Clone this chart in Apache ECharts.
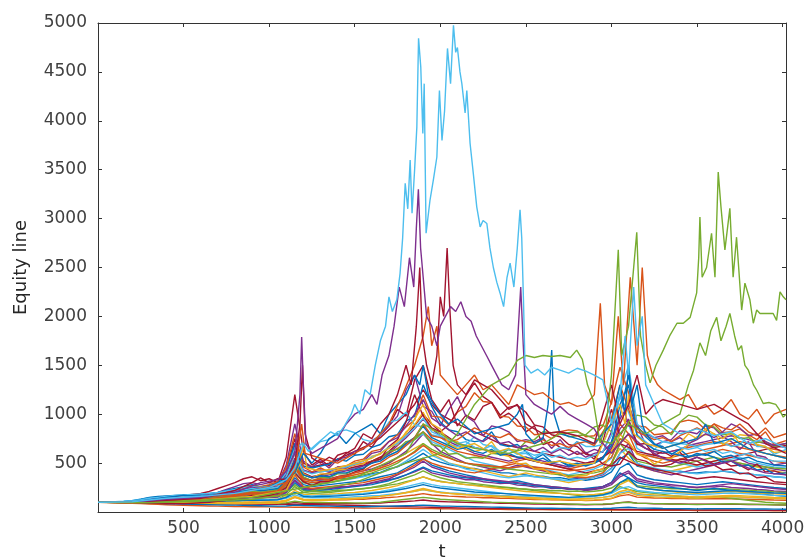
<!DOCTYPE html>
<html>
<head>
<meta charset="utf-8">
<script src="https://cdn.jsdelivr.net/npm/echarts@6/dist/echarts.min.js"></script>
<style>html,body{margin:0;padding:0;background:#fff}#c{width:805px;height:560px}</style>
</head>
<body>
<div id="c"></div>
<script>
// ---- axis / tick data ----
const xTicks = [500,1000,1500,2000,2500,3000,3500,4000];
const yTicks = [500,1000,1500,2000,2500,3000,3500,4000,4500,5000];
const tGrid = [0,50,100,150,200,250,300,350,400,450,500,550,600,650,700,750,800,850,900,950,1000,1050,1100,1150,1200,1250,1300,1350,1400,1450,1500,1550,1600,1650,1700,1750,1800,1850,1900,1950,2000,2050,2100,2150,2200,2250,2300,2350,2400,2450,2500,2550,2600,2650,2700,2750,2800,2850,2900,2950,3000,3050,3100,3150,3200,3250,3300,3350,3400,3450,3500,3550,3600,3650,3700,3750,3800,3850,3900,3950,4020];

// ---- grid series (values at tGrid) ----
const m1 = [100,100,102,105,108,115,125,140,150,160, 170,180,190,210,240,270,300,340,360,320, 340,300,560,1200,620,480,540,470,580,610, 590,720,660,790,880,1050,980,1350,1500,1150, 1020,1150,880,990,940,1080,1120,960,1010,940, 820,880,690,720,660,640,590,610,540,720, 1050,780,930,690,700,580,620,570,610,520, 560,530,490,520,470,480,430,490,410,420, 380];
const m2 = [100,99,101,104,110,120,132,140,145,150, 148,155,165,180,200,230,260,290,300,280, 300,290,480,900,520,460,520,450,540,560, 620,640,730,780,880,980,1250,1400,1080,1030, 880,1050,1180,980,920,780,880,860,820,720, 740,720,760,650,740,630,720,600,640,610, 820,1200,880,880,690,680,720,740,830,820, 800,880,860,770,720,640,720,580,560,480, 500];
const m3 = [100,101,103,106,112,130,150,160,165,170, 175,172,180,190,200,220,240,260,280,260, 270,290,420,700,470,450,470,490,540,520, 580,590,660,690,770,790,930,980,1300,1080, 920,840,820,740,720,730,820,690,670,690, 620,540,590,510,520,470,480,490,500,540, 720,980,1400,880,770,690,670,590,640,570, 580,590,560,510,520,470,480,430,440,390, 400];
const m4 = [100,100,98,100,104,110,118,125,135,140, 145,150,160,170,185,200,220,250,270,260, 280,310,450,800,460,410,450,410,460,470, 520,540,620,640,720,790,870,940,1200,980, 970,890,1020,1080,1220,1130,1120,980,970,880, 870,790,800,750,820,840,830,770,780,880, 1120,1480,1220,880,870,790,800,810,920,940, 920,840,900,810,820,850,790,740,820,690, 730];
const m5 = [100,101,104,108,115,125,140,150,160,170, 175,180,185,190,200,215,230,250,260,250, 260,280,400,650,710,640,720,740,820,840, 810,740,720,790,920,940,1020,890,870,790, 770,690,670,690,770,690,670,590,640,590, 600,550,620,610,660,650,720,670,670,690, 920,1180,1020,790,720,640,720,710,700,690, 670,690,700,710,670,690,770,670,670,590, 640];
const m6 = [100,100,101,103,106,110,115,120,125,130, 135,140,150,160,170,185,200,220,230,220, 230,250,350,600,390,350,390,390,430,440, 490,490,570,590,670,690,820,890,1020,840, 820,740,720,640,620,640,720,590,570,490, 500,440,440,390,400,350,370,370,420,440, 620,790,720,590,570,490,540,550,620,690, 770,790,800,690,740,790,780,690,670,610, 620];
const m7 = [100,99,98,100,102,106,110,115,120,125, 130,135,140,150,160,170,185,200,210,200, 210,230,300,500,360,320,350,350,390,390, 430,440,520,540,620,640,720,740,820,690, 670,590,600,550,560,550,600,590,640,630, 720,740,820,810,820,770,780,790,870,890, 820,690,920,990,970,890,870,790,920,990, 970,890,870,790,800,750,760,710,720,670, 700];
const m8 = [100,100,99,97,95,92,90,88,86,85, 85,90,95,100,110,120,130,150,170,160, 170,190,250,400,310,270,310,310,360,370, 410,440,520,540,670,740,920,1200,980,860, 820,890,1030,1190,1320,1180,1120,990,1070,1090, 1020,890,870,790,770,690,670,590,570,490, 470,490,620,540,520,470,470,490,540,530, 520,470,480,430,440,390,400,350,360,310, 300];
const m9 = [100,100,102,104,107,111,116,122,128,135, 142,150,158,168,180,194,210,228,250,240, 250,265,380,620,430,400,430,410,460,450, 500,520,600,620,720,760,880,1000,1150,960, 900,840,780,820,760,720,780,700,720,660, 680,620,660,600,640,580,620,560,600,620, 700,950,1100,860,800,760,780,720,760,700, 740,800,760,820,900,860,780,800,720,680, 700];
const m10 = [100,101,102,104,106,109,113,118,124,130, 136,142,148,156,166,178,192,208,226,218, 228,240,330,520,380,350,370,360,400,400, 430,450,500,520,580,620,700,760,880,760, 720,680,640,660,620,600,640,580,600,560, 560,520,550,500,520,480,500,470,500,560, 680,1100,1300,780,700,640,620,600,580,560, 600,580,620,560,580,540,560,520,500,480, 470];
const m11 = [100,100,99,99,100,101,103,106,110,114, 118,122,128,135,144,155,168,184,200,194, 204,216,300,480,340,320,340,330,360,370, 400,420,470,500,560,600,680,760,900,780, 760,720,740,800,860,820,780,760,800,740, 720,700,740,680,700,660,700,720,680,820, 960,1300,1050,820,780,740,760,720,780,820, 860,820,900,860,840,900,820,780,860,760, 800];
const m12 = [100,102,104,107,111,116,122,130,138,146, 152,158,164,172,182,194,208,224,242,232, 242,256,360,600,420,390,410,420,450,460, 490,520,560,600,660,700,780,860,960,820, 780,740,700,720,660,640,680,620,640,600, 620,580,600,560,580,540,560,540,580,620, 780,1200,1500,900,820,760,720,700,660,640, 660,620,640,600,620,580,600,560,540,520, 520];
const l1 = [100,100,101,102,104,108,112,118,122,128, 130,132,136,140,146,152,160,170,180,175, 185,190,260,350,280,260,270,280,290,300, 310,320,340,360,380,400,450,500,550,480, 450,420,400,380,360,340,320,300,310,320, 300,280,270,260,250,240,230,240,250,260, 300,400,350,300,280,270,260,250,240,230, 220,230,240,230,220,210,200,190,180,170, 160];
const l2 = [100,99,97,94,90,86,82,78,74,70, 68,66,64,62,60,58,56,55,54,53, 52,51,50,49,48,47,46,45,44,43, 42,41,40,40,39,38,37,36,35,34, 33,32,31,30,30,29,28,27,26,25, 25,24,24,23,23,22,22,21,21,20, 20,20,19,19,18,18,18,17,17,17, 16,16,16,15,15,15,14,14,14,13, 13];
const l3 = [100,101,103,106,110,115,122,130,138,145, 150,155,160,168,175,185,195,210,220,210, 220,230,330,450,320,300,310,320,340,360, 380,400,420,450,500,550,600,650,700,600, 550,500,480,460,440,420,400,380,360,380, 400,380,360,340,320,300,320,340,360,400, 500,650,550,480,450,420,400,420,440,460, 480,500,520,540,520,500,480,460,440,420, 400];
const l4 = [100,100,101,102,104,107,110,114,118,122, 126,130,135,140,146,154,162,172,185,180, 190,200,300,500,350,320,330,340,360,380, 400,420,440,470,500,560,620,700,800,700, 620,580,540,500,480,460,440,420,450,480, 460,440,420,400,380,360,350,340,360,380, 450,600,700,500,450,420,400,380,400,420, 440,460,480,500,520,540,500,480,460,440, 420];
const l5 = [100,98,96,95,94,93,92,92,93,94, 95,96,98,100,104,108,112,118,125,120, 125,130,180,260,200,190,195,200,210,220, 230,240,250,270,290,320,350,380,420,380, 350,330,310,300,290,280,270,260,250,240, 230,220,210,200,190,180,170,160,170,180, 200,260,230,210,200,190,180,170,160,150, 140,150,160,150,140,130,120,110,100,95, 90];
const l6 = [100,102,105,110,118,130,145,155,160,165, 170,168,172,178,185,195,205,220,235,225, 235,245,340,550,380,360,370,390,410,430, 450,480,500,540,580,620,680,740,800,720, 680,640,600,560,520,500,480,460,440,460, 480,460,440,420,400,380,400,420,440,480, 550,800,900,650,600,560,540,520,500,480, 460,480,500,520,540,560,520,500,480,460, 450];
const l7 = [100,100,99,98,97,96,95,94,93,92, 91,90,90,89,88,87,86,85,84,83, 82,81,80,79,78,76,74,72,70,68, 66,64,62,60,58,56,54,52,50,48, 46,44,42,40,39,38,37,36,35,34, 33,32,31,30,30,29,29,28,28,27, 27,26,26,25,25,24,24,23,23,22, 22,21,21,20,20,19,19,18,18,17, 17];
const l8 = [100,101,102,103,105,108,110,112,114,116, 118,120,122,124,126,130,135,140,150,145, 150,155,200,300,230,220,225,230,240,250, 260,270,280,300,320,350,380,420,460,420, 400,380,360,350,340,330,320,310,300,290, 280,270,260,250,245,240,235,230,240,260, 300,450,500,380,350,330,320,310,300,290, 280,290,300,310,300,290,280,270,260,250, 240];
const l9 = [100,100,101,103,106,110,115,120,125,130, 135,140,148,158,170,185,200,220,240,230, 240,250,380,600,420,400,410,420,440,460, 480,500,520,560,600,650,700,760,820,740, 700,660,620,600,580,560,540,520,500,520, 540,520,500,480,460,440,460,480,500,550, 650,900,800,700,650,620,600,620,640,660, 680,700,720,700,680,660,640,620,600,580, 560];
const l10 = [100,99,98,97,96,95,94,94,95,96, 97,98,100,102,105,110,115,120,128,124, 128,132,160,220,180,175,178,182,188,195, 200,210,220,235,250,270,300,330,360,330, 310,300,290,280,270,260,250,240,230,220, 210,205,200,195,190,185,180,175,180,190, 210,280,320,260,240,230,220,210,200,195, 190,195,200,205,210,205,200,195,190,185, 180];
const l11 = [100,100,100,101,102,104,106,108,110,112, 114,116,118,120,124,128,134,140,148,144, 148,152,200,320,240,230,235,240,250,260, 270,280,300,320,340,380,420,460,520,460, 430,400,380,360,350,340,330,320,310,300, 290,280,270,260,250,240,235,230,240,260, 300,380,420,340,320,300,290,280,270,260, 250,260,270,280,290,280,270,260,250,240, 230];
const l12 = [100,100,99,99,98,98,97,97,96,96, 95,95,94,94,93,93,92,92,91,91, 90,90,95,110,100,98,97,96,95,94, 93,92,95,100,110,120,130,140,150,140, 130,125,120,115,110,105,100,98,96,94, 92,90,88,86,84,82,80,78,80,82, 85,95,100,90,88,86,84,82,80,78, 76,78,80,82,84,82,80,78,76,74, 72];
const l13 = [100,101,103,105,108,112,117,122,128,134, 140,145,150,156,162,170,178,188,200,192, 198,205,280,420,300,285,290,300,315,330, 345,360,380,400,430,470,520,580,640,580, 540,500,470,440,420,400,380,360,350,360, 370,360,350,340,330,320,330,340,360,390, 440,600,650,500,470,450,430,420,410,400, 390,400,410,420,410,400,390,380,370,360, 350];
const l14 = [100,100,100,101,102,103,105,107,110,113, 116,120,125,130,140,150,165,180,200,190, 200,210,330,700,400,360,380,400,420,440, 460,480,520,560,620,700,780,880,1000,900, 820,760,700,680,660,640,620,600,580,560, 540,520,500,480,460,440,420,400,420,440, 480,560,520,480,460,440,420,400,380,360, 340,350,360,350,340,330,320,310,300,290, 280];
const l15 = [100,99,98,96,94,92,90,88,86,84, 82,80,78,76,74,72,70,68,66,64, 62,60,62,70,66,64,62,60,58,56, 55,54,56,58,60,62,64,66,70,66, 62,60,58,56,54,52,50,48,46,44, 42,40,39,38,37,36,35,34,35,36, 38,45,48,42,40,38,36,35,34,33, 32,33,34,35,34,33,32,31,30,29, 28];
const l16 = [100,100,101,102,103,104,106,108,110,112, 114,116,120,124,130,136,144,152,162,156, 160,166,220,380,260,240,250,260,270,280, 290,300,320,340,360,390,430,480,540,500, 470,450,430,410,400,420,440,460,480,500, 470,450,430,410,390,370,360,350,370,400, 500,700,800,600,550,520,500,520,540,560, 580,600,620,640,620,600,580,560,540,520, 500];
const l17 = [100,100,99,98,97,96,95,94,93,92, 91,90,89,88,87,86,86,86,87,88, 90,92,110,150,120,115,118,120,125,130, 135,140,150,160,170,185,200,220,240,220, 200,190,180,175,170,165,160,155,150,145, 140,135,130,128,126,124,122,120,124,130, 140,180,200,170,160,155,150,148,146,144, 142,146,150,154,158,154,150,146,142,138, 135];
const l18 = [100,100,101,102,103,105,108,112,116,120, 124,128,134,140,148,158,170,184,200,192, 200,210,320,550,380,350,360,380,400,420, 440,470,500,540,600,680,760,850,950,850, 780,720,680,640,600,580,560,540,520,540, 560,540,520,500,480,460,480,500,520,560, 650,850,950,700,650,620,600,620,640,680, 700,720,740,760,780,760,740,720,700,680, 660];
const l19 = [100,101,102,104,106,109,112,116,120,124, 128,132,136,141,147,154,162,172,184,178, 186,194,260,400,300,280,290,300,320,340, 360,380,400,430,460,500,560,620,700,640, 600,560,520,500,480,470,460,450,440,430, 420,410,400,390,380,370,380,390,400,420, 480,700,600,520,500,480,470,460,480,500, 520,540,560,540,520,500,480,470,460,450, 440];
const l20 = [100,100,100,100,101,102,103,104,105,106, 107,108,110,112,114,117,120,124,128,126, 128,130,150,200,170,165,168,170,175,180, 185,190,200,210,225,240,260,280,300,280, 265,255,245,235,225,215,205,195,185,175, 170,165,160,155,150,145,150,155,160,170, 190,240,260,220,210,200,195,190,185,180, 175,180,185,190,195,190,185,180,175,170, 165];
const l21 = [100,101,103,105,108,112,117,123,130,138, 146,154,164,176,190,205,222,245,270,255, 270,285,420,750,500,460,480,500,540,580, 620,660,700,760,840,920,1000,1100,1250,1100, 1000,950,900,860,820,780,740,700,680,660, 640,620,600,580,560,540,520,500,520,560, 620,700,660,620,600,580,560,540,520,500, 480,500,520,540,560,580,600,620,640,660, 680];
const l22 = [100,100,99,99,98,98,98,98,99,100, 101,102,104,106,108,111,114,118,122,120, 122,125,150,200,160,155,158,160,165,170, 175,180,190,200,210,225,240,260,280,260, 245,235,225,215,205,200,195,190,185,180, 175,170,165,160,155,150,155,160,165,175, 200,300,350,260,240,230,220,215,210,205, 200,205,210,215,220,215,210,205,200,195, 190];
const l23 = [100,100,101,102,104,106,109,112,116,120, 124,128,133,139,146,154,163,174,186,180, 188,196,280,450,320,300,310,320,340,360, 380,400,420,450,480,520,560,610,680,620, 580,550,520,500,490,480,470,460,450,460, 470,460,450,440,430,420,430,440,460,500, 560,750,700,600,580,560,540,560,580,600, 620,640,660,680,700,720,700,680,660,640, 620];
const l24 = [100,100,100,99,99,98,98,97,97,96, 96,95,95,95,96,97,98,100,103,101, 103,105,120,160,130,125,127,130,134,138, 142,146,152,160,170,182,196,212,230,214, 200,192,186,180,175,170,166,162,158,154, 150,146,142,138,134,130,134,138,142,150, 165,210,230,190,180,175,170,166,162,158, 155,158,162,166,170,166,162,158,154,150, 146];
const l25 = [100,99,98,98,99,100,102,105,108,111, 114,118,122,127,133,140,148,157,167,160, 168,176,230,330,250,235,245,240,260,255, 270,275,295,305,330,345,380,410,450,400, 380,360,350,330,330,310,300,290,295,275, 270,255,260,240,245,230,235,220,230,245, 280,360,400,320,300,285,280,265,270,255, 250,260,255,265,250,245,240,230,225,215, 210];
const l26 = [100,100,101,102,103,105,107,110,113,116, 119,122,126,130,135,141,148,156,165,158, 164,170,210,280,220,210,215,212,225,222, 232,236,250,258,275,288,310,330,360,330, 315,300,292,280,276,266,262,250,248,238, 236,226,228,218,220,210,214,206,212,222, 245,300,330,270,260,250,246,238,240,232, 230,236,232,240,234,228,224,218,214,206, 200];
const l27 = [100,100,100,101,101,102,103,104,105,106, 107,108,109,110,112,114,116,119,122,119, 122,124,140,175,150,145,148,146,152,150, 156,158,166,170,180,188,200,212,230,212, 204,196,192,184,182,176,174,168,166,160, 158,152,154,148,150,144,146,140,144,150, 162,195,210,180,174,168,166,160,162,156, 154,158,156,160,156,152,150,146,144,140, 138];
const l28 = [100,99,97,96,95,93,92,90,89,88, 87,86,85,84,84,83,83,82,82,81, 81,80,86,98,88,86,86,85,86,85, 86,86,90,92,98,102,108,114,122,112, 108,104,102,98,97,94,93,90,89,86, 85,82,82,79,79,76,76,74,75,77, 82,96,104,90,88,85,84,82,82,80, 79,80,80,81,80,78,77,76,75,73, 72];
const l29 = [100,101,102,104,107,111,115,120,126,132, 138,144,151,159,168,178,189,202,217,208, 218,228,310,460,340,318,330,322,345,340, 360,366,392,405,440,462,505,545,600,540, 510,485,470,448,445,425,420,402,400,385, 380,362,366,348,352,335,340,325,338,360, 410,540,600,470,450,430,425,410,418,402, 400,410,405,418,405,398,390,380,372,360, 352];
const l30 = [100,100,99,98,97,96,95,94,93,92, 92,91,91,91,92,93,95,97,100,98, 100,102,118,150,126,122,124,122,127,125, 130,131,138,141,149,155,165,174,188,174, 168,162,159,153,152,146,145,140,139,134, 133,128,129,124,125,120,121,117,120,125, 138,165,178,152,148,143,142,138,139,135, 134,136,135,138,135,132,130,127,125,122, 120];

// ---- prominent series as [t, value] pairs ----
const skyPeak = [[0,100],[200,105],[400,140],[600,160],[800,190],[1000,250],[1100,330],[1150,450],[1200,700],[1230,620],[1280,700],[1320,760],[1360,820],[1400,780],[1440,880],[1480,1000],[1500,1100],[1530,1000],[1560,1250],[1590,1200],[1620,1500],[1650,1750],[1680,1900],[1700,2200],[1720,2050],[1746,2170],[1765,2440],[1780,2800],[1795,3360],[1810,3100],[1824,3600],[1835,3055],[1850,3500],[1863,3935],[1873,4844],[1886,4550],[1898,3870],[1906,4380],[1917,2850],[1940,3190],[1960,3400],[1980,3630],[1995,4310],[2010,3800],[2025,4100],[2042,4740],[2060,4380],[2077,4977],[2090,4700],[2100,4750],[2115,4500],[2126,4380],[2145,4080],[2155,4310],[2174,3770],[2193,3460],[2213,3120],[2233,2915],[2250,2980],[2272,2950],[2290,2700],[2310,2500],[2330,2350],[2349,2240],[2370,2100],[2390,2400],[2408,2545],[2430,2300],[2450,2700],[2466,3090],[2476,2800],[2486,2170],[2495,1500],[2530,1420],[2570,1460],[2610,1400],[2650,1480],[2700,1450],[2750,1420],[2800,1470],[2850,1440],[2900,1400],[2950,1350],[2980,1100],[3000,900],[3050,1200],[3080,1800],[3100,1400],[3130,2300],[3150,1700],[3180,2000],[3200,1300],[3250,1100],[3300,900],[3400,800],[3500,850],[3600,780],[3700,820],[3800,700],[3900,750],[4020,650]];
const purplePeak = [[0,100],[200,98],[400,130],[600,150],[800,200],[950,300],[1050,330],[1100,420],[1150,600],[1180,1200],[1190,1790],[1200,1300],[1215,700],[1250,600],[1300,650],[1350,700],[1400,750],[1450,900],[1500,1000],[1550,1050],[1600,1200],[1630,1100],[1660,1400],[1700,1600],[1730,1900],[1760,2300],[1790,2100],[1820,2600],[1845,2300],[1860,2900],[1872,3300],[1885,2700],[1900,2400],[1920,2000],[1950,1900],[1980,1700],[2000,1900],[2030,2000],[2060,2100],[2090,2050],[2120,2150],[2150,2000],[2180,1950],[2210,1800],[2240,1700],[2270,1600],[2300,1500],[2330,1400],[2360,1300],[2400,1250],[2440,1400],[2470,2300],[2485,1700],[2500,1200],[2550,1100],[2600,1050],[2650,1000],[2700,1080],[2750,1000],[2800,950],[2850,900],[2900,850],[2950,700],[3000,600],[3100,800],[3200,650],[3300,550],[3400,500],[3500,560],[3600,480],[3700,520],[3800,450],[3900,400],[4020,380]];
const redPeak = [[0,100],[200,100],[400,120],[600,140],[800,220],[900,300],[950,350],[1000,300],[1050,340],[1100,330],[1150,500],[1180,900],[1195,1500],[1210,800],[1250,550],[1300,500],[1350,560],[1400,520],[1450,600],[1500,650],[1550,800],[1600,750],[1650,900],[1700,1000],[1750,1200],[1800,1500],[1830,1300],[1860,1900],[1880,2500],[1895,1800],[1920,1500],[1950,1300],[1980,1600],[2000,2200],[2020,2000],[2040,2700],[2055,2100],[2075,1500],[2100,1300],[2150,1200],[2200,1350],[2250,1300],[2300,1250],[2350,1150],[2400,1050],[2450,1100],[2500,900],[2550,850],[2600,800],[2700,820],[2800,780],[2900,700],[2950,1000],[3000,1300],[3050,900],[3100,1100],[3150,1400],[3200,1000],[3250,1100],[3300,1150],[3400,1100],[3500,1050],[3600,1100],[3700,1000],[3800,900],[3900,700],[4020,600]];
const greenPeak = [[0,100],[300,95],[600,110],[900,130],[1200,200],[1500,300],[1800,500],[2000,600],[2100,800],[2200,1100],[2300,1300],[2400,1400],[2450,1550],[2500,1600],[2550,1580],[2600,1600],[2650,1590],[2700,1600],[2760,1580],[2797,1655],[2830,1560],[2860,1300],[2893,1145],[2934,705],[2970,900],[3000,1400],[3040,2680],[3060,1600],[3100,1900],[3148,2860],[3170,1800],[3200,1500],[3226,1320],[3260,1500],[3303,1655],[3340,1800],[3383,1930],[3420,1930],[3460,1990],[3498,2240],[3510,2600],[3517,3015],[3530,2400],[3556,2500],[3585,2850],[3605,2400],[3624,3475],[3640,3120],[3663,2680],[3692,3105],[3711,2400],[3731,2810],[3761,2065],[3780,2340],[3809,2170],[3829,1930],[3849,2065],[3868,2030],[3945,2030],[3965,1960],[3985,2250],[4004,2200],[4020,2170]];
const greenSecond = [[0,100],[300,100],[600,120],[900,150],[1200,250],[1500,350],[1800,600],[1900,900],[2000,800],[2100,700],[2200,650],[2400,600],[2600,700],[2700,800],[2800,820],[2900,750],[3000,700],[3100,900],[3200,800],[3300,900],[3400,1000],[3450,1300],[3480,1450],[3517,1730],[3550,1600],[3580,1850],[3615,1990],[3640,1750],[3670,1900],[3692,2030],[3720,1800],[3741,1655],[3760,1700],[3780,1500],[3800,1450],[3830,1300],[3849,1245],[3887,1110],[3920,1120],[3960,1100],[3980,1050],[4004,970],[4020,1000]];
const orangePeak = [[0,100],[200,90],[400,110],[600,150],[800,180],[1000,260],[1100,300],[1150,420],[1190,900],[1210,600],[1300,550],[1400,500],[1500,600],[1600,700],[1700,900],[1780,1200],[1850,1500],[1900,1800],[1930,2100],[1950,1700],[1980,1900],[2000,1400],[2050,1300],[2100,1200],[2150,1300],[2200,1400],[2250,1250],[2300,1300],[2350,1200],[2400,1100],[2450,1300],[2500,1250],[2550,1200],[2600,1220],[2650,1150],[2700,1100],[2750,1120],[2800,1080],[2850,1100],[2900,1200],[2935,2135],[2960,1300],[3000,1100],[3040,2000],[3070,1300],[3110,2400],[3150,1500],[3180,2500],[3210,1600],[3240,1400],[3270,1300],[3300,1250],[3350,1200],[3400,1150],[3450,1200],[3500,1050],[3550,1100],[3600,1000],[3650,1050],[3700,1150],[3750,1000],[3800,950],[3850,1050],[3900,900],[3950,1000],[4020,1050]];
const bluePeak = [[0,100],[200,100],[400,150],[500,170],[600,160],[800,200],[1000,250],[1150,400],[1200,600],[1250,500],[1300,600],[1350,750],[1400,800],[1450,700],[1500,800],[1550,850],[1600,900],[1650,800],[1700,1000],[1750,1100],[1800,1200],[1850,1400],[1880,1300],[1900,1500],[1930,1200],[1960,1100],[2000,1000],[2050,900],[2100,950],[2200,800],[2300,850],[2400,900],[2450,1000],[2480,1100],[2500,800],[2550,700],[2600,750],[2630,1100],[2651,1655],[2665,1000],[2700,800],[2800,750],[2900,700],[2950,800],[3000,900],[3050,1300],[3080,1000],[3100,1500],[3120,1100],[3150,1300],[3180,900],[3200,800],[3250,700],[3300,650],[3400,700],[3500,750],[3550,900],[3600,700],[3700,750],[3800,650],[3900,600],[4020,550]];
const yellowPeak = [[0,100],[300,100],[600,120],[900,160],[1100,220],[1180,500],[1200,700],[1220,450],[1300,420],[1400,450],[1500,500],[1600,550],[1700,650],[1800,800],[1850,950],[1900,1100],[1950,900],[2000,850],[2050,700],[2100,650],[2200,700],[2300,600],[2400,650],[2500,550],[2600,500],[2700,520],[2800,480],[2900,500],[2950,700],[3000,900],[3050,1100],[3080,900],[3100,1200],[3130,800],[3200,700],[3300,650],[3400,700],[3450,800],[3500,750],[3550,850],[3600,800],[3650,750],[3700,820],[3750,700],[3800,650],[3900,600],[4020,550]];

// MATLAB default colour order
const C = {blue:'#0072BD', orange:'#D95319', yellow:'#EDB120', purple:'#7E2F8E', green:'#77AC30', sky:'#4DBEEE', red:'#A2142F'};

const gridList = [l25,l26,l27,l28,l29,l30,l1,l2,l3,l4,l5,l6,l7,l8,l9,l10,l11,l12,l13,l14,l15,l16,l17,l18,l19,l20,l21,l22,l23,l24,m1,m2,m3,m4,m5,m6,m7,m8,m9,m10,m11,m12];
const gridColors = [
  C.purple,C.green,C.sky,C.red,C.blue,C.orange,
  C.blue,C.orange,C.yellow,C.purple,C.green,C.sky,C.red,
  C.blue,C.orange,C.yellow,C.purple,C.green,C.sky,C.red,
  C.blue,C.orange,C.yellow,C.purple,C.green,C.sky,C.red,
  C.blue,C.orange,C.yellow,
  C.red,C.purple,C.blue,C.orange,C.sky,C.yellow,C.green,C.red,C.purple,C.blue,C.orange,C.sky];
const keyList = [yellowPeak,bluePeak,orangePeak,greenSecond,redPeak,purplePeak,greenPeak,skyPeak];
const keyColors = [C.yellow,C.blue,C.orange,C.green,C.red,C.purple,C.green,C.sky];

const series = [];
gridList.forEach((arr, k) => {
  series.push({type:'line', showSymbol:false, symbol:'none', silent:true, animation:false,
    lineStyle:{width:1.4, color:gridColors[k]},
    data: tGrid.map((t,i)=>[t, arr[i]])});
});
keyList.forEach((arr, k) => {
  series.push({type:'line', showSymbol:false, symbol:'none', silent:true, animation:false,
    lineStyle:{width:1.4, color:keyColors[k]}, data: arr});
});

const axisCol = '#333333';
const labCol = '#404040';
const fontFam = 'DejaVu Sans';
const xFmt = v => xTicks.includes(v) ? String(v) : '';
const yFmt = v => yTicks.includes(v) ? String(v) : '';

const chart = echarts.init(document.getElementById('c'), null, {renderer:'canvas'});
chart.setOption({
  backgroundColor:'#ffffff',
  animation:false,
  grid:{left:98, right:19, top:23, bottom:48, containLabel:false, outerBoundsMode:'none'},
  xAxis:[
    {type:'value', min:0, max:4020, interval:500, position:'bottom',
     name:'t', nameLocation:'middle', nameGap:31,
     nameTextStyle:{color:'#262626', fontSize:18, fontFamily:fontFam},
     axisLine:{show:true, onZero:false, lineStyle:{color:axisCol, width:1}},
     axisTick:{show:true, inside:true, length:4, lineStyle:{color:axisCol}},
     axisLabel:{formatter:xFmt, color:labCol, fontSize:17, fontFamily:fontFam, margin:8, showMaxLabel:false},
     splitLine:{show:false}},
    {type:'value', min:0, max:4020, interval:500, position:'top',
     axisLine:{show:true, onZero:false, lineStyle:{color:axisCol, width:1}},
     axisTick:{show:true, inside:true, length:4, lineStyle:{color:axisCol}},
     axisLabel:{show:false}, splitLine:{show:false}}
  ],
  yAxis:[
    {type:'value', min:0, max:5000, interval:500, position:'left',
     name:'Equity line', nameLocation:'middle', nameGap:68, nameRotate:90,
     nameTextStyle:{color:'#262626', fontSize:18, fontFamily:fontFam},
     axisLine:{show:true, onZero:false, lineStyle:{color:axisCol, width:1}},
     axisTick:{show:true, inside:true, length:4, lineStyle:{color:axisCol}},
     axisLabel:{formatter:yFmt, color:labCol, fontSize:17, fontFamily:fontFam, margin:11},
     splitLine:{show:false}},
    {type:'value', min:0, max:5000, interval:500, position:'right',
     axisLine:{show:true, onZero:false, lineStyle:{color:axisCol, width:1}},
     axisTick:{show:true, inside:true, length:4, lineStyle:{color:axisCol}},
     axisLabel:{show:false}, splitLine:{show:false}}
  ],
  series: series
});
</script>
</body>
</html>
